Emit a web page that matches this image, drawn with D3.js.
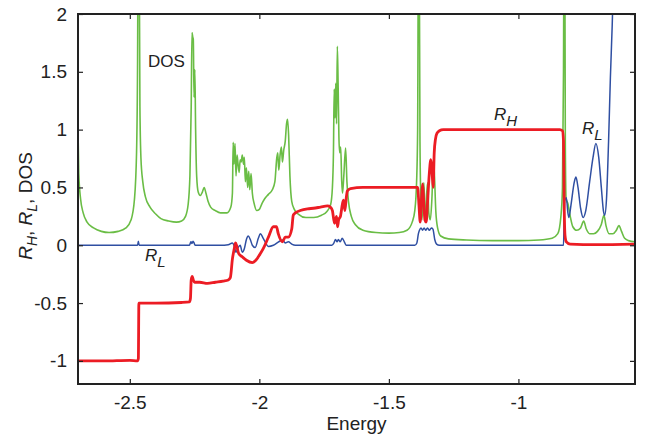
<!DOCTYPE html>
<html>
<head>
<meta charset="utf-8">
<script src="https://cdn.jsdelivr.net/npm/d3@7"></script>
<style>
  body { margin: 0; background: #fff; }
  text { font-family: "Liberation Sans", Arial, Helvetica, sans-serif; fill: #222; }
</style>
</head>
<body>
<div id="canvas"></div>
<script>
// values: [energy, value]
const dos = [
  [-2.700, 1.00], [-2.697, 0.62], [-2.690, 0.40], [-2.680, 0.28], [-2.665, 0.20], [-2.640, 0.15],
  [-2.610, 0.12], [-2.580, 0.11], [-2.545, 0.12], [-2.515, 0.15], [-2.495, 0.22], [-2.482, 0.40],
  [-2.474, 0.80], [-2.470, 1.60], [-2.468, 2.60], [-2.464, 2.60], [-2.461, 1.20], [-2.457, 0.75],
  [-2.450, 0.55], [-2.440, 0.42], [-2.422, 0.33], [-2.400, 0.27], [-2.380, 0.23], [-2.350, 0.21],
  [-2.320, 0.20], [-2.300, 0.21], [-2.285, 0.25], [-2.275, 0.35], [-2.268, 0.60], [-2.263, 1.20],
  [-2.260, 1.84], [-2.257, 1.80], [-2.255, 1.78], [-2.252, 1.28], [-2.249, 1.52], [-2.246, 1.00],
  [-2.242, 0.60], [-2.236, 0.46], [-2.228, 0.43], [-2.220, 0.46], [-2.213, 0.50], [-2.206, 0.45],
  [-2.198, 0.38], [-2.188, 0.33], [-2.170, 0.30], [-2.150, 0.28], [-2.125, 0.28], [-2.110, 0.33],
  [-2.104, 0.45], [-2.101, 0.89], [-2.098, 0.70], [-2.094, 0.88], [-2.090, 0.60], [-2.086, 0.78],
  [-2.083, 0.72], [-2.078, 0.63], [-2.074, 0.74], [-2.070, 0.72], [-2.066, 0.78], [-2.061, 0.70],
  [-2.058, 0.76], [-2.054, 0.55], [-2.050, 0.67], [-2.045, 0.50], [-2.041, 0.64], [-2.037, 0.48],
  [-2.032, 0.62], [-2.027, 0.45], [-2.020, 0.36], [-2.010, 0.30], [-2.000, 0.31], [-1.990, 0.36],
  [-1.980, 0.40], [-1.965, 0.44], [-1.950, 0.48], [-1.940, 0.55], [-1.933, 0.75], [-1.929, 0.80],
  [-1.925, 0.65], [-1.920, 0.78], [-1.915, 0.85], [-1.911, 0.72], [-1.906, 0.82], [-1.900, 0.90],
  [-1.895, 1.05], [-1.891, 1.09], [-1.887, 0.95], [-1.882, 0.60], [-1.875, 0.38], [-1.865, 0.31],
  [-1.850, 0.27], [-1.820, 0.24], [-1.790, 0.24], [-1.760, 0.26], [-1.740, 0.29], [-1.725, 0.35],
  [-1.718, 0.50], [-1.714, 0.80], [-1.711, 1.35], [-1.708, 1.10], [-1.705, 1.40], [-1.702, 1.05],
  [-1.699, 1.72], [-1.696, 1.40], [-1.693, 0.95], [-1.690, 0.80], [-1.686, 0.85], [-1.682, 0.55],
  [-1.679, 0.45], [-1.674, 0.60], [-1.667, 0.84], [-1.662, 0.55], [-1.656, 0.38], [-1.645, 0.25],
  [-1.630, 0.18], [-1.600, 0.13], [-1.550, 0.11], [-1.500, 0.105], [-1.460, 0.11], [-1.430, 0.13],
  [-1.410, 0.20], [-1.400, 0.30], [-1.393, 0.55], [-1.389, 1.00], [-1.386, 2.60], [-1.383, 2.60],
  [-1.380, 0.90], [-1.376, 0.35], [-1.372, 0.22], [-1.368, 0.45], [-1.365, 0.54], [-1.361, 0.30],
  [-1.358, 0.22], [-1.354, 0.45], [-1.350, 0.54], [-1.346, 0.28], [-1.340, 0.22], [-1.334, 0.40],
  [-1.328, 0.74], [-1.324, 0.60], [-1.319, 0.30], [-1.312, 0.15], [-1.300, 0.08], [-1.270, 0.055],
  [-1.200, 0.045], [-1.100, 0.04], [-1.000, 0.04], [-0.920, 0.045], [-0.870, 0.06], [-0.848, 0.10],
  [-0.836, 0.25], [-0.830, 0.50], [-0.826, 1.50], [-0.824, 2.60], [-0.821, 2.60], [-0.819, 0.90],
  [-0.816, 0.40], [-0.809, 0.36], [-0.800, 0.25], [-0.790, 0.16], [-0.775, 0.13], [-0.760, 0.15],
  [-0.748, 0.21], [-0.738, 0.14], [-0.725, 0.10], [-0.710, 0.10], [-0.695, 0.12], [-0.680, 0.18],
  [-0.670, 0.26], [-0.662, 0.17], [-0.650, 0.10], [-0.635, 0.10], [-0.622, 0.13], [-0.612, 0.17],
  [-0.602, 0.12], [-0.590, 0.06], [-0.575, 0.04], [-0.550, 0.03]
];

const rH = [
  [-2.700, -1.0], [-2.600, -1.0], [-2.500, -0.995], [-2.470, -1.0], [-2.467, -0.98], [-2.465, -0.5],
  [-2.400, -0.5], [-2.300, -0.495], [-2.270, -0.49], [-2.266, -0.46], [-2.263, -0.30], [-2.259, -0.27],
  [-2.255, -0.30], [-2.250, -0.32], [-2.230, -0.32], [-2.200, -0.33], [-2.170, -0.32], [-2.140, -0.31],
  [-2.120, -0.30], [-2.112, -0.28], [-2.104, -0.12], [-2.096, -0.02], [-2.092, 0.02], [-2.087, -0.01],
  [-2.080, -0.07], [-2.066, -0.10], [-2.050, -0.13], [-2.027, -0.15], [-2.010, -0.12], [-2.004, -0.10],
  [-1.985, -0.03], [-1.965, 0.07], [-1.946, 0.16], [-1.934, 0.16], [-1.927, 0.10], [-1.911, 0.03],
  [-1.900, 0.07], [-1.888, 0.07], [-1.875, 0.14], [-1.869, 0.26], [-1.861, 0.28], [-1.842, 0.30],
  [-1.814, 0.315], [-1.791, 0.32], [-1.764, 0.33], [-1.737, 0.34], [-1.726, 0.33], [-1.718, 0.30],
  [-1.710, 0.19], [-1.702, 0.25], [-1.698, 0.16], [-1.694, 0.22], [-1.687, 0.25], [-1.679, 0.36],
  [-1.675, 0.39], [-1.670, 0.30], [-1.664, 0.42], [-1.660, 0.47], [-1.648, 0.49], [-1.600, 0.50],
  [-1.500, 0.50], [-1.389, 0.50], [-1.384, 0.35], [-1.379, 0.20], [-1.374, 0.40], [-1.370, 0.53],
  [-1.366, 0.40], [-1.361, 0.22], [-1.356, 0.20], [-1.350, 0.40], [-1.344, 0.62], [-1.338, 0.74],
  [-1.333, 0.62], [-1.329, 0.50], [-1.325, 0.80], [-1.320, 0.92], [-1.314, 0.97], [-1.305, 0.99],
  [-1.290, 1.00], [-1.000, 1.00], [-0.840, 1.00], [-0.830, 0.99], [-0.826, 0.90], [-0.823, 0.30],
  [-0.820, 0.08], [-0.815, 0.03], [-0.800, 0.01], [-0.700, 0.005], [-0.550, 0.01]
];

const rL = [
  [-2.700, 0], [-2.470, 0], [-2.467, 0.035], [-2.464, 0], [-2.270, 0], [-2.264, 0.03], [-2.260, 0.015],
  [-2.256, 0.035], [-2.252, 0.02], [-2.248, 0], [-2.150, 0], [-2.120, 0.005], [-2.104, 0.02],
  [-2.098, 0.0], [-2.090, -0.06], [-2.082, -0.02], [-2.074, 0.0], [-2.066, -0.06], [-2.058, -0.03],
  [-2.050, 0.05], [-2.043, 0.08], [-2.035, 0.05], [-2.027, 0.0], [-2.016, -0.02], [-2.004, 0.06],
  [-1.996, 0.10], [-1.985, 0.06], [-1.965, -0.01], [-1.946, 0.0], [-1.925, 0.03], [-1.911, 0.045],
  [-1.900, 0.02], [-1.888, 0.03], [-1.875, 0.01], [-1.861, 0.0], [-1.720, 0.0], [-1.712, 0.02],
  [-1.706, 0.05], [-1.700, 0.03], [-1.695, 0.05], [-1.688, 0.03], [-1.680, 0.06], [-1.672, 0.03],
  [-1.665, 0.0], [-1.400, 0.0], [-1.392, 0.02], [-1.386, 0.10], [-1.382, 0.13], [-1.376, 0.15],
  [-1.370, 0.13], [-1.364, 0.15], [-1.358, 0.13], [-1.351, 0.15], [-1.344, 0.13], [-1.336, 0.15],
  [-1.330, 0.14], [-1.323, 0.05], [-1.316, 0.01], [-1.305, 0.0], [-0.826, 0.0], [-0.823, 0.30],
  [-0.821, 0.39], [-0.815, 0.41], [-0.809, 0.28], [-0.805, 0.24], [-0.797, 0.35], [-0.784, 0.55],
  [-0.778, 0.59], [-0.770, 0.50], [-0.760, 0.32], [-0.750, 0.24], [-0.740, 0.30], [-0.725, 0.55],
  [-0.712, 0.76], [-0.701, 0.88], [-0.690, 0.76], [-0.680, 0.50], [-0.672, 0.30], [-0.667, 0.26],
  [-0.660, 0.40], [-0.652, 0.90], [-0.645, 1.45], [-0.638, 1.90], [-0.633, 2.30], [-0.620, 3.00]
];

const xTicks = [-2.5, -2, -1.5, -1];
const yTicks = [-1, -0.5, 0, 0.5, 1, 1.5, 2];

// set the dimensions and margins of the graph
const margin = {top: 14, right: 13, bottom: 58, left: 78},
    width = 648 - margin.left - margin.right,
    height = 442 - margin.top - margin.bottom;

const svg = d3.select("#canvas")
    .append("svg")
    .attr("width", 648)
    .attr("height", 442);

const g = svg.append("g")
    .attr("transform", `translate(${margin.left},${margin.top})`);

const x = d3.scaleLinear().domain([-2.7, -0.55]).range([0, width]);
const y = d3.scaleLinear().domain([-1.2, 2]).range([height, 0]);

g.append("clipPath").attr("id", "clip")
  .append("rect").attr("width", width).attr("height", height);

const line = d3.line()
    .x(d => x(d[0]))
    .y(d => y(d[1]))
    .curve(d3.curveMonotoneX);

const plot = g.append("g").attr("clip-path", "url(#clip)");

plot.append("path").datum(dos)
    .attr("d", line).attr("fill", "none")
    .attr("stroke", "#6abd45").attr("stroke-width", 1.6);

plot.append("path").datum(rL)
    .attr("d", line).attr("fill", "none")
    .attr("stroke", "#2f4fa2").attr("stroke-width", 1.5);

plot.append("path").datum(rH)
    .attr("d", line).attr("fill", "none")
    .attr("stroke", "#ec1c24").attr("stroke-width", 2.8);

// axes, ticks pointing inward
const fmt = d => String(d);
const tickStyle = sel => {
  sel.select(".domain").remove();
  sel.selectAll("line").attr("stroke", "#222").attr("stroke-width", 1.2);
  sel.selectAll("text").style("font-size", "19px").attr("fill", "#222");
};

g.append("g")
    .attr("transform", `translate(0,${height})`)
    .call(d3.axisBottom(x).tickValues(xTicks).tickFormat(fmt).tickSizeInner(-5).tickSizeOuter(0).tickPadding(12))
    .call(tickStyle);

g.append("g")
    .call(d3.axisTop(x).tickValues(xTicks).tickFormat("").tickSizeInner(-5).tickSizeOuter(0))
    .call(tickStyle);

g.append("g")
    .call(d3.axisLeft(y).tickValues(yTicks).tickFormat(fmt).tickSizeInner(-5).tickSizeOuter(0).tickPadding(11))
    .call(tickStyle);

g.append("g")
    .attr("transform", `translate(${width},0)`)
    .call(d3.axisRight(y).tickValues(yTicks).tickFormat("").tickSizeInner(-5).tickSizeOuter(0))
    .call(tickStyle);

// frame
g.append("rect")
    .attr("width", width).attr("height", height)
    .attr("fill", "none").attr("stroke", "#222").attr("stroke-width", 2);

// axis labels
svg.append("text")
    .attr("x", margin.left + width / 2).attr("y", 430)
    .attr("text-anchor", "middle")
    .style("font-size", "19px")
    .text("Energy");

const yl = svg.append("text")
    .attr("transform", "translate(32,206) rotate(-90)")
    .attr("text-anchor", "middle")
    .style("font-size", "19px");
yl.append("tspan").style("font-style", "italic").text("R");
yl.append("tspan").attr("dy", 5).style("font-size", "14px").style("font-style", "italic").text("H");
yl.append("tspan").attr("dy", -5).text(", ");
yl.append("tspan").style("font-style", "italic").text("R");
yl.append("tspan").attr("dy", 5).style("font-size", "14px").style("font-style", "italic").text("L");
yl.append("tspan").attr("dy", -5).text(", DOS");

// curve labels
function subLabel(px, py, sub) {
  const t = svg.append("text").attr("x", px).attr("y", py).style("font-size", "17px");
  t.append("tspan").style("font-style", "italic").text("R");
  t.append("tspan").attr("dy", 6).style("font-size", "15px").style("font-style", "italic").text(sub);
}
svg.append("text").attr("x", 148).attr("y", 67).style("font-size", "17px").text("DOS");
subLabel(494, 120, "H");
subLabel(582, 134, "L");
subLabel(145, 261, "L");
</script>
</body>
</html>
